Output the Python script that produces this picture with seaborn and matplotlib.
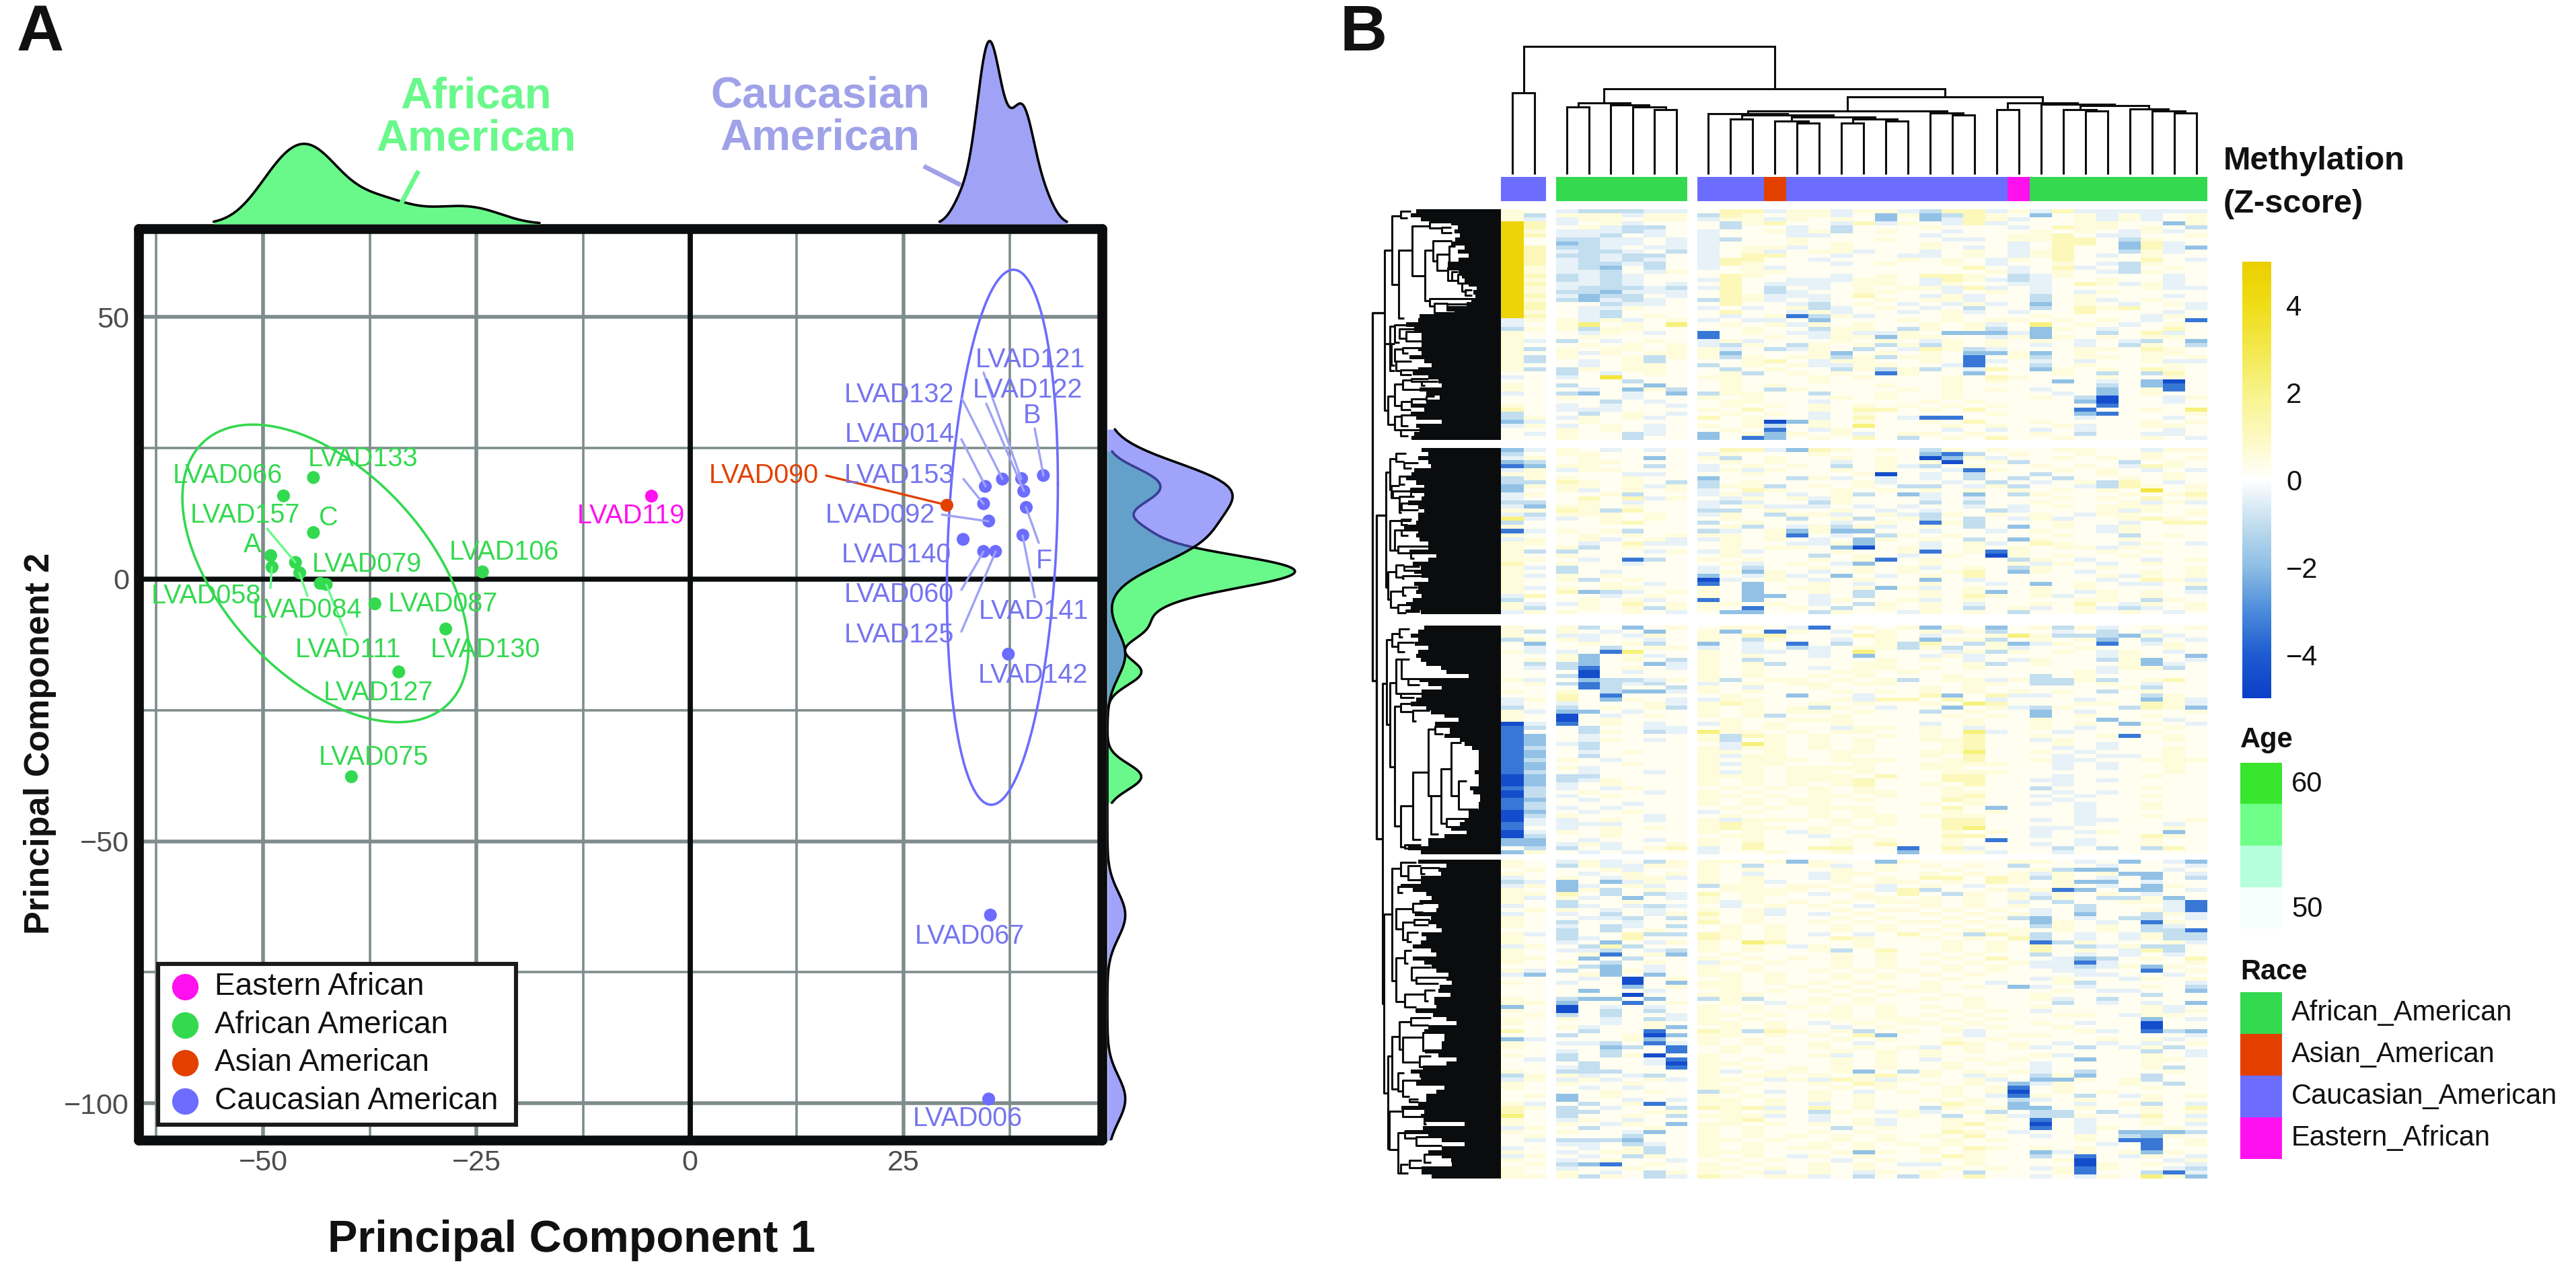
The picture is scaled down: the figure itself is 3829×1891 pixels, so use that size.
import numpy as np
import pandas as pd
import seaborn as sns
import matplotlib
matplotlib.use('Agg')
import matplotlib.pyplot as plt
from matplotlib.cm import ScalarMappable
from matplotlib.colors import LinearSegmentedColormap, Normalize
from matplotlib.patches import Rectangle

W, H = 3829, 1891

# PCA scores
green_ids = ['LVAD133', 'LVAD066', 'C', 'A', 'LVAD058', 'LVAD157', 'LVAD084', 'LVAD079', 'LVAD079b', 'LVAD087', 'LVAD106', 'LVAD130', 'LVAD127', 'LVAD075']
green_pc1 = [-44.1, -47.6, -44.1, -49.1, -48.95, -46.2, -45.7, -43.3, -42.6, -36.9, -24.3, -28.6, -34.1, -39.65]
green_pc2 = [19.4, 15.9, 8.9, 4.5, 2.3, 3.2, 1.2, -0.8, -1.0, -4.7, 1.4, -9.5, -17.7, -37.7]
blue_pc1 = [41.4, 38.85, 36.6, 39.1, 34.6, 34.4, 39.4, 35.0, 39.0, 32.0, 34.4, 35.8, 37.3, 35.2, 35.0]
blue_pc2 = [19.8, 19.2, 19.1, 16.8, 17.7, 14.4, 13.7, 11.1, 8.4, 7.6, 5.3, 5.3, -14.3, -64.1, -99.2]
magenta_pc1 = [-4.5]
magenta_pc2 = [15.85]
orange_pc1 = [30.1]
orange_pc2 = [14.1]

# ellipses: centre x, half width, centre y, half height, correlation
green_ellipse = [-42.7, 16.75, 1.1, 28.4, -0.507]
blue_ellipse = [36.6, 6.5, 8.0, 51.05, 0.2]

# label text, reference pixel centre
green_labels = [('LVAD133', 540, 682), ('LVAD066', 338, 707), ('LVAD157', 365, 766), ('C', 488, 770), ('A', 375, 810),
                ('LVAD079', 545, 839), ('LVAD106', 749, 821), ('LVAD058', 307, 886), ('LVAD084', 456, 907),
                ('LVAD087', 658, 898), ('LVAD111', 517, 966), ('LVAD130', 721, 966), ('LVAD127', 562, 1030), ('LVAD075', 555, 1126)]
blue_labels = [('LVAD132', 1337, 587), ('LVAD014', 1337, 646), ('LVAD153', 1337, 707), ('LVAD092', 1308, 766),
               ('LVAD140', 1332, 825), ('LVAD060', 1336, 884), ('LVAD125', 1336, 944), ('LVAD121', 1531, 535),
               ('LVAD122', 1527, 580), ('B', 1534, 618), ('F', 1552, 834), ('LVAD141', 1536, 909), ('LVAD142', 1535, 1004),
               ('LVAD067', 1441, 1392), ('LVAD006', 1438, 1663)]
green_links = [(397, 786, 439, 836), (402, 874, 404, 843), (457, 886, 445, 852), (515, 944, 485, 869)]
blue_links = [(1430, 593, 1490, 712), (1429, 653, 1465, 723), (1432, 712, 1462, 749), (1400, 765, 1469, 775),
              (1429, 877, 1462, 820), (1429, 939, 1480, 820), (1462, 554, 1518, 712), (1466, 600, 1522, 730),
              (1538, 637, 1551, 707), (1544, 807, 1525, 754), (1538, 888, 1520, 796)]

legend_names = ['Eastern African', 'African American', 'Asian American', 'Caucasian American']
race_names = ['African_American', 'Asian_American', 'Caucasian_American', 'Eastern_African']

# column annotation, one letter per sample
col_race = 'cc' + 'gggggg' + 'cccocccccccccc'[:14] + 'm' + 'gggggggg'

# column dendrogram: (left, right, y of the join in reference pixels)
g1_tree = (0, 1, 138)
g2_tree = ((2, 3, 159), (4, (5, (6, 7, 162.5), 159.4), 156), 153)
g3a_tree = ((8, ((9, 10, 177), ((11, (12, 13, 183), 180), ((14, 15, 183), (16, 17, 180), 177), 174), 171), 169),
            (18, (19, 20, 171), 168), 165)
g3b_tree = ((21, 22, 162.5), (23, ((24, (25, 26, 165), 162.5), (27, (28, (29, 30, 168), 165), 162), 157), 155), 153)
col_tree = (g1_tree, (g2_tree, (g3a_tree, g3b_tree, 144), 132), 69)

# heatmap, coded levels: 5 4 3 2 1 blue side, . near white, a b c d e yellow side
levels = {'.': 0.2, 'a': 0.55, 'b': 1.1, 'c': 2.2, 'd': 3.3, 'e': 4.6, '1': -0.4, '2': -1.0, '3': -1.9, '4': -3.4, '5': -4.5}

s1 = [
 "a. 122211 .bb1a a1aa1 2bb1a 1b111 111",
 "a2 aaa1aa 2ba.a a1.3a 32ba. 3.a1a 1.a",
 "a1 1aa.aa 1aa1a .a.3. 31ba1 ..a1a 1.a",
 "eb 1.a1.. .2ab. .1b1a .1b1. ..aa. .3a",
 "eb .a122. .2..1 .2... a...1 .baa. a.2",
 "ea 11121. 1..a1 a2.a. .1... a.a.1 a1.",
 "eb 112.1. 1...1 1.... 1...a ab.11 ..a",
 "e. 2211.1 12..a ...a. .11.a abb.2 a..",
 "e. 3211.1 1...a .a... a...1 .bb.3 b1.",
 "eb 221.11 1.aa1 .a... a.1.1 .b..3 b13",
 "eb 1221.2 1.a1. aa1.. 1.a.1 ab..2 a1.",
 "eb 22122. 1.bb. .1..1 1.a.1 ab.1. a..",
 "eb 12121. 1bb.. 1...a .a.1a .b... b.1",
 "eb 12212. 1ba.. .1.a. .a.1. .a.12 a..",
 "ea 123.2. 1.a1. ..... ..b.1 .b1.2 .a.",
 "ea 112.1a ..aa. ..... ...a1 .a.12 a..",
 "eb 2121.. .ba.. .1.a. bba.2 1a... .1.",
 "ea 2121.. 1b..1 11aa. 1ba12 1..a. .1.",
 "eb 1121.1 .b.11 1.aa. 1a..1 1.ba1 a1.",
 "ea 122212 1b.2. 1.a.a a1b1. 1.... a11",
 "ea 223111 .b.21 ..aa. .1.a. 1.1a. ...",
 "eb 1322.1 .ba11 1.b.. 1a1.. 2.a.. .1.",
 "ea 23121. 2ba1. 1..a. aa1.. 2.a1. a..",
 "eb ..211. .b..1 2.a.1 .1a1. 3.a.1 .a1",
 "eb .11a.. 1.1.a 21.a. 1.2.. 2.bab ..1",
 "ea .12... .b..1 a1..1 .a1.1 ..b.. .1.",
 "eb .12.a. .1.a4 2a1.. .a... a.... 1a.",
 "1a a1a1.a 1.11. 3...a .a.aa .a.a. 1.4",
 "1. ac.a.c .a.a1 a.a.. a.a1. c.a.1 .a.",
 "2a a2aa.. ..a.. 2aa.2 a.a2. 3a.1. .b.",
 "a. .1a.1. 4.a.1 1a11a .3331 3..2. b1.",
 "a. .a.... 4..a. 1aa3a a..1a 3a.a. aa.",
 "a1 2.1.a. 1a1.. .a.a. 1a.a. a.1.1 2.3",
 "a. .a.a.a 12a.2 a.a2a 2a.a. 1.1.2 a.2",
 "a2 a.aa.a a1.21 a.2.1 ba21. ..aa. ba.",
 "a. a1a.aa a3... a3.a. a.33a 3.a.. aa.",
 "a2 a..a2a a2a.a a2a2a a.4.a 2.aa. a.a",
 "a2 .1.a2. ..ab. 1aa.. a.41. 1.1.. a11",
 "a. .1.aa. 2.a.a 11aa. .14.. 2.a.. .a.",
 "a2 2a.aa. .2.a. .2a2a 2.1b. 3a.a. ba.",
 ".. 2.1.a. .a2.a .a.4a ..3.. .a.2. 2b.",
 "1. 1.d... aa... a.a.. .a.ba ...a. .a.",
 ".. ...2.. .a... a.... .a.a. .3.1. 35.",
 "a. 2...3. .a.a. ...a. .a... ...2. 34.",
 "a. .1.3a2 .a.2a ....a .a.a. 1..3. a4.",
 "1. 23.1.3 2aa.. 2..a. .a... .1.3. a..",
 ".. a..1.. a.a.. .a.a. .a... a.25. .1a",
 ".. ..2.1. .aa.. 1.... a.a.. ..35. .1.",
 "a. 1.1..1 .a.a. a.a.a .a.a. ...4. ...",
 "b. 111... a.b.. a.bb. a.b.. ..4.. a.c",
 "2. .2.a.1 .a.a. 1.a.. ...a. ..34. ..a",
 "2a 1a.a1. b.a.. 1.b.1 44... ..1.. .1.",
 "31 .a.... ..a53 a.a.. a.b.. a.... a.a",
 "1a 1.a.1. a.a2. a.c.. .a.a. .a1.. aa.",
 ".. a.a.1. .a.4. 1a... .1.1. 1.1.. .1.",
 ".1 a..21. 3.a3a .a1.a a.a.. a.2.. 11.",
 ".. a..2.. 3.43. a.b.2 .a.b. .a... a.1",
]
s2 = [
 "31 a.1.1. .bb13 ba.a. 2a.a. .aa.. 1aa",
 "2. aa.... 1a... a.... 342.a ..a.. a..",
 "1a .a..3. a2.a. .a.a. 53a1. .a.a. a.a",
 "32 .aa... .a.a. .1.a. a5.a2 ....2 .a.",
 "43 aa..2. 1.a.a .2.a1 2.a.. a.a.1 ba.",
 "1a 1aa... 1a1a. .a.a. .14a. .a.a. 1.1",
 "aa ...11. ..a.. ..a5. 1.2.. 2..a. .a.",
 "2a a..a.. 3...2 a1.1. 1.2.2 .2..a .a.",
 "22 ba.a.2 2.a.. ..a1. .1.2. 1.a2b .1.",
 "3a aa.a1a 2aa2. a.a.2 2.1a2 ..12b a.a",
 "3. a1.a.a 1.ba. .a.a. a.a.a .a.a. d.a",
 "1a ..a2.. 1a1.1 .a2.3 1.3.2 a...a .ab",
 "1. .b.b1a .1a.a 1a... 1.1.. .a.a. b.a",
 "22 .a.1.. 121.. 2a... 2.2.. a...a 1a1",
 "13 aa.a.. 1.a11 1.1.1 ..1.1 .a.aa a..",
 "aa ba2b.. 22.a. .a.1. 1..21 ...a1 a.a",
 "12 aaa.a. 1a.2a a1.a1 2a.a. a.1aa ..a",
 "c1 1.a.a. .a..2 .a2.a 2.2.1 a1..a ba.",
 "2. ..ab.. 2.a.. .1.a. 4a2.. .a..1 .bb",
 "a. ...... .a2.1 a2a1. a.2.3 .a.1a ...",
 "41 a.a2.. 21.a3 a33.. 1..1. a..1a ...",
 "a. .a.a.a aa.a4 .1.2a .a... .a..2 .a.",
 "1a .a1.a1 1a.a. 1.3a. a.2.3 a...a ...",
 "aa .1.b11 .a..1 1a3.. 1.a1. ba..1 a.1",
 "a. a2.a.. .a.aa .35.a 1.a.a .aa1a ...",
 "a2 2...1a 1a1.. .a..a 4.a4a ...a. a..",
 "a. a..... .a... 2.a.1 .a.5a .a..a ...",
 "aa .1.42. a.a.. a.a4. a...2 a.1.. 1.a",
 "b. a..1.. .a1.a .13.. a...a 1a.1. a..",
 "a1 2..... 1.2.. a.a.a 1.a.2 a..a. ..a",
 "a. 2.1... 1a3a. 1.a.a .ab.3 a.1.. a.a",
 "a1 a.a... 3.1a1 .3.1. a.b.. ...a1 a.a",
 "a. a2.a.. 51.a. 1.a.. 3.1.. ...1. ba1",
 "a. ..a.1. 4.3.. a.1.. a..1. 3.a.1 1.a",
 "a1 a.aa.. a.3.a a.a3a 1.a.. a.a.. ..2",
 "a. b321.a a.3.. a.2.. a.a3. a.1a. a.1",
 "1b ..1.a. a.33. 1.2.. a.ba. a1.a. a..",
 "2. .a.a1. 4.3.. 1a..a 1.a.. ..aa. 2a.",
 "a1 1a.b.a aa.a. 1.2a. a.1.. a.b.1 a.a",
 "a2 .a.a2a a.4.a .2.a. a.2.a 1.a12 1.a",
 "1a a..a.1 .33.. 2a..1 a.a.2 ..a.a .1.",
]
s3 = [
 "a. a2.3.a .aa.1 4.a.a 3a.3. a2a1. a.a",
 "a2 a.1.3. a3.4a .1.a. a1a2. .1.2. 1..",
 "a. 11.1a. a.bb. ..ba. 1..ac a2223 a1.",
 "2a a1..1. a.2a. .1.a. 3aa2. a.a3. 2.1",
 ".3 .a.a2. 3.1.4 .2.a2 b.2a3 1a.4. 1a.",
 ".1 ..2.aa 1.1.2 1.aa2 a2.a1 ..a.. .a.",
 "a1 1.4c.. a.11. 1.c.. .1a2a .a.1a .1.",
 ".. a3.a1. a.a.. 1.3.. 1a1.. ...1a ..3",
 ".a a3.a.2 a.2.. ...a. a.1.1 a..2a 3.1",
 ".2 23..31 a.a2. ..aa. ..a2. a...a 31.",
 ".1 24.a.1 a.a.. 1.aa. a.a.. ...1a a2.",
 ".. .5.1.. a.a.. .aa.a ..... ..a1. ...",
 ".. 25.... a.a.. a.a.. .a... 2.a.. ...",
 "a1 .3221a a2.aa .a.a2 .aa1a 22a2. ab.",
 ".a 24212. 1.a.a a.aa. ..aa. 22.a. 1..",
 ".. .42..2 a.1.. a.... a.a.. ....a 2..",
 "a. a.2331 a.a.. .a.a. a.a.a .a.2. a..",
 ".. b.4... .a..3 ..1.. b3.b1 1.... 2a.",
 "1a b.3a.1 1aa.. .a1bb .b.1. ..1.. 3a1",
 "1. 1...a1 aba.. a.a.. a.cb. ..aa. ba1",
 "2. 2.a.a2 a.a.a 2a.1. .3.a1 2a..2 ba3",
 "a1 33.1.. a.a.a a.a.. 2.a.. 3.1.. ..a",
 "a. 5.1.a. a.a2. .a... .a.a. 3.a.. a..",
 "a. 5.a... .a..a aa... ..a.. a..3. .1.",
 "51 4.a.1. 1a.a. .a... 1.a.. a.a.3 a.1",
 "42 .2..11 .a.a. .1aa. a.1.. a.1.. .a.",
 "4. .2a.21 caa.a .aa.. a.c1. .1... a..",
 "43 .1.... a2ba. a..a. a.b.. a..a4 .a.",
 "43 .1a.1. a2.a. a.a.. aab.. 1a... .a.",
 "43 12.... .1ca. a.a.. .ab.. .a.1. ...",
 "42 .2.... a1aa. a.a.. .ab.. .1.1. .a.",
 "43 .1.a.. aa.a. .aa.. aac.. a.1.. .a.",
 "43 .2.... a1aa. .a... a.b.. .1.11 .a.",
 "42 a.1... a.aaa .aaa. .ab.. a11.. aaa",
 "43 ...a.. a1aa. ..a.. aaaa. .1.1. .a.",
 "43 a1.... a.a.a aaa.. aa... .1.1. .a.",
 "42 .1..1. a1a.a a.a.. .aaa. ..... .a.",
 "53 22.... aaa.a aa.b. .bb.. .1... a..",
 "53 21a... a.a.a aab.. .bb.. 11.1. ...",
 "53 1.a... a.a.a .ab.. a.b.. .1... ...",
 "42 1.1a.. .a.a. a.a.. .a... 2.... a..",
 "52 .a..1. a.a.. a.aa. .aa.. .1.1. ...",
 "52 1.a... aa.a. aa.a. .ab.. 1.1.. a..",
 "43 .1.... a.a.a a.a.. .ba.. .1... ...",
 "42 ...1.. a.a.a a.... a.a.. 1.1.. a..",
 "42 1.1... .a.a. aaa.. .b.3. ..1.. a..",
 "53 .1.a.. 1.a.. a.a.. .a.a. ..1.. ...",
 "52 a...1. .a... a.aa. aaa.. ..1.. a..",
 "51 1.a.1. a1aaa .a.a. .bb.. 1.11. ..a",
 "41 111... aba.. .a.a. .bb.. ..1.. .1.",
 "4. 1.a.a. abaa. a.a.. .bc.. 11... .a.",
 "51 a.a... a.a.1 a.... .a.a. 1.1a. .3.",
 "52 ..a... .aa.. 1.a.. .bb.. 1.... ba.",
 "33 .1..1. a.a.. .a.a. .a.4. ..1.. a..",
 "33 1a1..a a.b.. .a.b. .a... 1.1.. a..",
 ".2 2.1.ab 1.b.. bb..4 .b1.. .2.2. 2b.",
 "3a .1.1.. 1..a. .a..3 .aa1. .1... ...",
]
s4 = [
 "a. 1a1.2a aa.a3 a..3a ....a a.1.3 .13",
 "a. 2a11aa a.2.. a1.a. a.a.2 ...1. ..1",
 ".a ..a1.. a.a.. .a.a. .a... a233. .1.",
 "a. .1.a.a a.1.. 1aa.. a.a.a 1a.a3 3.1",
 "1. a.1aa1 a.a.. 1a.a. bb.ba 2a.1. 3.2",
 "21 3.31a. a.a1. .a.aa .a.ba .a33. 1..",
 "1a 31.a1. 2aa.a a.a1. a.1.. .a.1. 3a.",
 "a. 3a2.a. .aaaa .a.1b 2..a1 a43.3 3.1",
 "aa b.2.21 b.aa. 1.a.b .2a.a 1a.a. 1..",
 "a1 a1.3.1 a.a.. ..aa. a.a.a 2a.22 a3.",
 "a. 2..a.. a1a.a .a.aa a.a.1 .2..a a14",
 "1. 21.121 .1.a. a.1.. a.a.a ..2.. .14",
 ".a a.1.1. a.a1. .a.aa .a.a. 1.2.. a14",
 "1. 1.2.1a b.a1. 1.a.. a.a.a 1.3.. 2a1",
 "a. .112.2 a.a.. .a.a. .a.a2 3.1.2 2.1",
 "a. 2..1.. b.a.. a.a.a a.a.. 3a.1. 4a.",
 "a. 1.21.2 .a.a. .a.a. .a.a. 2a.a. 21.",
 ".. 2.2.a. .a.a. .a.a. a.a.a .a.a. 224",
 "a1 2..b22 ba.a. 1.1.b .a2ba 2.1.1 a22",
 "a. 21.b.. ba.a. .ba.. a.a.b 2.1.1 a22",
 "a. 1.3.1a a.cb. ..a.. .a.a. 42a.. .a1",
 "1a .2b2.. a.a.1 a.a.. .a.a. b.21a 22.",
 "a. 112.12 a.a.. a2.b. .a.a. b.a.1 b2.",
 "a. .a4.a3 .a... .a.a. a.a.. 2.1.1 .1.",
 "aa .3.2.. a.a.a .a.a. .a.b. .132. a.b",
 "a. a.2.a. 1a.a. .a.a. a.a.a 1141. ..a",
 ".. .23.1. a.a.. .a.a. .a.a. 1121a 3a.",
 "a1 2.3a1. a.a.. a.a.a .a.a. .11.. 4.a",
 "13 .a3.3. aa.a. .a.a. a.a.. ..11. .1.",
 ".. .1.5.a .a.a. .a.a. .a... 1a..1 a.a",
 "a. 1..5.3 aa.a. a.a.. a..1. .a2.. ..1",
 ".. ...3.a aa..a .a.a. a.a.3 1.1.. a.2",
 ".. .3..1. .a.a. a.a.a a.... .a.11 ..3",
 ".. ...5.. aaa.. .a.a. .a... a.... 2..",
 "a. 233.3. 2a2.. a.a.. a.a.. a1.2. ...",
 "aa 3..4.a .a.1. a.a.. ..a.. .2.1. 1.3",
 "3. 5.1.1. a.a.a .a.a. a.a.. a.... a1.",
 "a. 5.2.2. a.a.. .a.a. .a.a. 1.... a1a",
 ".a 2.2..1 aa.a. aa.a. a.a.. .aa.1 aa.",
 "a. a.1.21 a.a.. .a.aa .a.a. ..... 3.1",
 "a. ..1.a. aa.a. 1.a.a a.a.. a.1.. 5..",
 ".. a1..a3 .a.a. .1.a. .a.a. .a... 5..",
 "b. .2..4. ba2ba .a2.a .a1.. ..a1. 423",
 ".. 2..a53 aa.a. a.b3. ..1.a a.... ..1",
 "31 ...a3. a.a.. .a.a. .a.a. ...a. a1.",
 "a. 112.41 a.a.. a.1.. .ba.a .1.1. 1.a",
 "a. ..32.4 .a.a. a.a.a 1.a.a 1.2.1 a2.",
 ".. 1.2..4 .a.a. .a.a. a.a.. ..... 2.1",
 "a. 2.2a5. a.... a1.a. a.... a1... a.1",
 ".1 2...14 a.a.. .a.a. 1.a.a ..3.. aa.",
 ".. .2..15 aa... .a.a. .a.a. 1.... a..",
 ".. 12...4 a.a.a .a.a. .a... 1.... a2.",
 "a. 222... a1.aa .a3.2 a.a.a 1.2.. .a.",
 "2a a1.12. a.aa. a.ab. a.1a. 2a3.. 2..",
 "1a 1a1.a1 aa.1a 1ba1a ..a1. 33a.a 2..",
 "a. a..a.. a.a.. a.ba. a.a.3 1a..a .2.",
 "a. .1.1.. aa... .a.a. .a.a4 .a... a..",
 ".. ..a.a. 2a.1. a.1.a .a.a5 .a.a. ...",
 ".a 3.a... a.a.. a.a.. .a.14 a.2.1 a.a",
 ".. 3..1.1 aa.a. a.a.. a.a.2 1.a.. a..",
 "a1 .2.a4. aa.a. 1.a.. .ba.3 ..1.a 2.1",
 "ba 2.1..2 bab1. b.a.. 2a.a3 3.a.. a.b",
 "b. 22..aa .a.a. 2a.1a 1.a2. 22.2. a.a",
 "c. 2..a.2 aaa1. 1...a .2.a1 22a.1 b.1",
 "a. 1a.1.. .ab.. 1.a1. .a.a. 4.1.. a.a",
 "a. a.1a.3 aa.a. a.a1. .ab.. 5.1.. a.1",
 "1a .2..a. a.a.. .2.a. .a.a. 4.1a. .a.",
 "a. a..13. a.a.. a.a.. .ba.1 ..1.3 332",
 ".a ...2.. a.a.a .a.a. a.b.. 1.a.2 3a.",
 ".1 2223.. aa.a. .a.a. .a.a. ..a.4 4.a",
 ".. 11.21. a.a.. a.a.a .a... ...1. 4.a",
 "1. .1.a2. a.a.a a.a.. a.ba. a.a.. 4..",
 "a. 1.aa2. aaa.. .a3a. a.a.. 31a.a 3a.",
 "1a .1.2a. a.a.1 a.a.. .ba.. 2.4.1 a.1",
 "a. 1.a..1 .a.a. .1.a. a.a.. .a5.. .1a",
 ".a 234.a. a.a.. a.a.1 1.a.. ..5a. a.1",
 "a. 1..a.. aa.a. a.a.. .a.a. 1a4a. .12",
 "a. a.1.2a a.a1. a.1a. a.2.. .a4.. 241",
 "aa a2a.21 ba.aa 1.2.2 a.b.. 1.1a. ca3",
]

# row dendrogram, left edge of the black block per row (x in zoom pixels, heatmap edge is 603)
edge_s1 = [225, 200, 245, 380, 410, 395, 420, 400, 380, 440, 410, 460, 415, 365, 365, 415, 430, 440, 460, 495, 480, 490, 470, 450,
           365, 395, 240, 235, 180, 215, 250, 250, 250, 250, 235, 250, 195, 260, 295, 235, 210, 280, 325, 340, 240, 270, 330, 270,
           200, 260, 200, 225, 340, 225, 240, 215, 205]
edge_s2 = [250, 280, 235, 280, 290, 215, 205, 180, 225, 260, 200, 260, 250, 190, 235, 260, 235, 235, 225, 170, 235, 225, 240, 280,
           280, 195, 315, 280, 210, 245, 215, 250, 280, 215, 235, 225, 250, 210, 180, 200, 245]
edge_s3 = [260, 235, 200, 235, 220, 280, 235, 225, 245, 270, 335, 360, 460, 240, 280, 340, 250, 250, 225, 200, 270, 290, 350, 415,
           310, 375, 375, 350, 420, 440, 475, 503, 505, 505, 505, 503, 485, 505, 505, 505, 465, 480, 510, 510, 505, 505, 460, 460,
           440, 420, 380, 450, 350, 280, 280, 190, 245]
edge_s4 = [235, 360, 325, 335, 245, 245, 155, 210, 270, 295, 240, 325, 315, 220, 290, 280, 315, 340, 250, 270, 245, 210, 290, 315,
           210, 260, 295, 315, 370, 360, 385, 330, 325, 378, 305, 305, 315, 225, 300, 360, 405, 280, 260, 350, 350, 340, 340, 265,
           325, 405, 360, 255, 200, 240, 245, 225, 350, 315, 270, 270, 235, 160, 260, 245, 260, 440, 255, 175, 280, 340, 440, 340,
           280, 340, 380, 385, 250, 250, 295]

# row dendrogram joins: x, y top, y bottom, x end top, x end bottom
tree_top = [
 (83, 180, 772, 118, 100), (118, 52, 305, 155, 145), (155, 35, 60, 200, 185), (148, 180, 430, 208, 170), (208, 90, 275, 285, 265),
 (285, 75, 97, 380, 340), (340, 95, 115, 380, 385), (265, 180, 365, 300, 285), (300, 145, 220, 385, 318), (318, 195, 255, 375, 365),
 (372, 165, 240, 400, 395), (365, 245, 290, 385, 385), (385, 260, 290, 410, 410), (410, 270, 300, 440, 430), (430, 300, 330, 490, 450),
 (445, 325, 345, 475, 475), (285, 358, 385, 470, 305), (305, 375, 410, 365, 395), (362, 378, 400, 450, 395), (83, 525, 525, 108, 108),
 (108, 460, 625, 130, 130), (130, 455, 520, 180, 150), (150, 470, 505, 215, 180), (180, 480, 515, 250, 250), (115, 525, 605, 130, 130),
 (130, 545, 590, 165, 135), (165, 540, 560, 235, 190), (135, 590, 625, 205, 155), (155, 622, 640, 235, 205), (100, 720, 825, 128, 130),
 (128, 675, 755, 165, 160), (165, 660, 695, 205, 240), (205, 655, 665, 280, 250), (250, 665, 680, 320, 265), (160, 740, 770, 200, 200),
 (205, 730, 750, 270, 270), (270, 720, 735, 305, 295), (130, 795, 845, 160, 155), (160, 790, 830, 225, 190), (155, 845, 865, 240, 190),
 (90, 1000, 1425, 108, 100), (108, 950, 1065, 135, 115), (135, 930, 960, 180, 170), (170, 965, 985, 235, 205), (115, 1050, 1095, 150, 120),
 (150, 1015, 1045, 205, 175), (120, 1070, 1095, 200, 150), (150, 1090, 1150, 200, 160), (200, 1060, 1090, 260, 215), (160, 1115, 1140, 225, 235),
 (108, 1180, 1290, 200, 130), (160, 1175, 1195, 205, 185), (130, 1215, 1290, 160, 145), (160, 1215, 1235, 235, 190), (145, 1275, 1300, 280, 200),
 (200, 1300, 1320, 315, 215), (100, 1370, 1470, 135, 110), (135, 1345, 1390, 170, 165), (170, 1350, 1365, 240, 215), (165, 1385, 1395, 280, 170),
 (110, 1440, 1500, 165, 145), (165, 1425, 1455, 230, 180), (145, 1490, 1520, 210, 180), (180, 1510, 1515, 240, 240),
]
tree_bot = [
 (75, 178, 1055, 92, 85), (92, 58, 290, 118, 108), (118, 40, 75, 150, 145), (150, 27, 50, 195, 165), (145, 65, 90, 215, 175),
 (108, 175, 405, 135, 125), (135, 110, 205, 160, 155), (160, 110, 165, 195, 190), (190, 165, 180, 240, 240), (155, 205, 215, 250, 215),
 (128, 240, 568, 155, 155), (155, 232, 255, 270, 210), (210, 250, 280, 285, 225), (155, 512, 625, 210, 175), (210, 420, 605, 280, 245),
 (280, 303, 485, 310, 290), (310, 295, 315, 375, 345), (335, 412, 560, 380, 360), (290, 485, 590, 335, 325), (380, 340, 485, 425, 415),
 (415, 445, 522, 450, 500), (360, 548, 570, 445, 385), (175, 620, 630, 245, 245),
 (80, 810, 1300, 118, 100), (118, 685, 992, 155, 135), (155, 668, 705, 225, 190), (190, 678, 715, 245, 245), (245, 682, 700, 330, 265),
 (145, 735, 750, 215, 165), (135, 795, 850, 210, 165), (210, 780, 805, 255, 255), (165, 832, 880, 215, 185), (215, 825, 840, 285, 280),
 (185, 860, 885, 235, 205), (135, 930, 1050, 175, 175), (175, 910, 945, 205, 190), (205, 955, 990, 290, 225), (225, 983, 1000, 365, 325),
 (175, 1030, 1065, 265, 225), (265, 1018, 1048, 310, 280), (225, 1070, 1078, 315, 315), (100, 1200, 1455, 118, 100), (118, 1145, 1290, 150, 145),
 (150, 1105, 1180, 200, 165), (200, 1095, 1115, 290, 280), (165, 1148, 1215, 255, 240), (255, 1135, 1185, 350, 270), (240, 1200, 1228, 290, 360),
 (145, 1245, 1295, 170, 165), (165, 1265, 1310, 250, 195), (195, 1318, 1325, 235, 235), (105, 1350, 1455, 165, 145), (165, 1340, 1365, 240, 260),
 (260, 1368, 1385, 400, 270), (145, 1410, 1520, 175, 155), (175, 1405, 1425, 215, 225), (225, 1420, 1445, 340, 340), (260, 1468, 1490, 340, 290),
 (155, 1497, 1520, 190, 190), (195, 1485, 1505, 250, 250),
]

sns.set_style('white')
plt.rcParams['font.family'] = ['Liberation Sans', 'DejaVu Sans']

GREEN, BLUE, ORANGE, MAGENTA = '#33D94F', '#6C6CFF', '#E34000', '#FF10EE'
LIGHT_GREEN, LIGHT_BLUE = '#68F98A', '#9FA2F5'
INK = '#0A0C0D'
GRID = '#7F8C8C'

fig = plt.figure(figsize=(W / 100, H / 100), dpi=100, facecolor='white')


def axes_px(x0, y0, x1, y1, **kw):
    return fig.add_axes([x0 / W, 1 - y1 / H, (x1 - x0) / W, (y1 - y0) / H], **kw)


# Panel A scatter
scores = pd.DataFrame({
    'pc1': green_pc1 + blue_pc1 + magenta_pc1 + orange_pc1,
    'pc2': green_pc2 + blue_pc2 + magenta_pc2 + orange_pc2,
    'race': ['g'] * len(green_pc1) + ['c'] * len(blue_pc1) + ['m'] + ['o'],
})
ax = axes_px(206, 340, 1638, 1695)
ax.set_xlim((206 - 1025.5) / 12.69, (1638 - 1025.5) / 12.69)
ax.set_ylim((861 - 1695) / 7.79, (861 - 340) / 7.79)
ax.set_xticks([-50, -25, 0, 25])
ax.set_yticks([-100, -50, 0, 50])
ax.set_xticks([-62.5, -37.5, -12.5, 12.5, 37.5], minor=True)
ax.set_yticks([-75, -25, 25], minor=True)
ax.grid(True, which='major', color=GRID, lw=4.0, zorder=1)
ax.grid(True, which='minor', color=GRID, lw=2.6, zorder=1)
ax.set_axisbelow(True)
ax.axhline(0, color=INK, lw=5.4, zorder=1.5)
ax.axvline(0, color=INK, lw=5.6, zorder=1.5)
for sp in ax.spines.values():
    sp.set_linewidth(10.5)
    sp.set_color(INK)
    sp.set_capstyle('round')
ax.tick_params(which='major', length=3, width=2, color='#333333', labelsize=31, labelcolor='#4D4D4D', pad=7, left=True, bottom=True)
ax.tick_params(which='minor', length=0)

for ell, col in [(green_ellipse, GREEN), (blue_ellipse, BLUE)]:
    t = np.linspace(0, 2 * np.pi, 300)
    ax.plot(ell[0] + ell[1] * np.cos(t), ell[2] + ell[3] * np.cos(t - np.arccos(ell[4])), color=col, lw=2.6, zorder=2)

sns.scatterplot(data=scores, x='pc1', y='pc2', hue='race', palette={'g': GREEN, 'c': BLUE, 'm': MAGENTA, 'o': ORANGE},
                s=190, linewidth=0, legend=False, ax=ax, zorder=4, clip_on=False)
ax.set_xlabel('')
ax.set_ylabel('')

# marginal densities
top = axes_px(206, 15, 1638, 333, facecolor='none')
sns.kdeplot(x=green_pc1, fill=True, color=LIGHT_GREEN, alpha=1, linewidth=0, bw_adjust=0.68, cut=2.2, ax=top)
sns.kdeplot(x=green_pc1, color='black', linewidth=2.6, bw_adjust=0.68, cut=2.2, ax=top)
sns.kdeplot(x=blue_pc1, fill=True, color=LIGHT_BLUE, alpha=1, linewidth=0, bw_adjust=0.85, cut=2.2, ax=top)
sns.kdeplot(x=blue_pc1, color='black', linewidth=2.6, bw_adjust=0.85, cut=2.2, ax=top)
top.set_xlim(ax.get_xlim())
top_peak = max(l.get_ydata().max() for l in top.lines)
top.set_ylim(0, top_peak * 318 / 272)
top.axis('off')

side = axes_px(1646, 340, 2000, 1695, facecolor='none')
sns.kdeplot(y=green_pc2, fill=True, color=LIGHT_GREEN, alpha=1, linewidth=0, bw_adjust=0.3, cut=2, ax=side)
sns.kdeplot(y=green_pc2, color='black', linewidth=2.6, bw_adjust=0.3, cut=2, ax=side)
sns.kdeplot(y=blue_pc2, fill=True, color='#6166F8', alpha=0.6, linewidth=0, bw_adjust=0.22, cut=2, ax=side, zorder=3)
sns.kdeplot(y=blue_pc2, color='black', linewidth=2.6, bw_adjust=0.22, cut=2, ax=side, zorder=4)
side.set_ylim(ax.get_ylim())
side_peak = max(l.get_xdata().max() for l in side.lines)
side.set_xlim(0, side_peak * 354 / 279)
side.axis('off')

# Panel B heatmap, three column groups by four row slices
cmap = LinearSegmentedColormap.from_list('meth', ['#0B3FC8', '#1E5CD0', '#4C8CDB', '#8DBEE4', '#C2DEEF', '#FFFFFF',
                                                  '#FDF9C0', '#F8F38A', '#F3E84E', '#EFDD18', '#EBCF00'])
row_slices = [(s1, 311, 654), (s2, 666, 913), (s3, 930, 1270), (s4, 1278, 1752)]
col_groups = [(0, 2, 2231, 2298), (2, 8, 2313, 2508), (8, 31, 2523, 3281)]


def decode(rows):
    out = []
    for r in rows:
        r = r.replace(' ', '').ljust(31, '.')[:31]
        out.append([levels[ch] for ch in r])
    return pd.DataFrame(out)


for rows, y0, y1 in row_slices:
    mat = decode(rows)
    for c0, c1, x0, x1 in col_groups:
        hax = axes_px(x0, y0, x1, y1)
        sns.heatmap(mat.iloc[:, c0:c1], cmap=cmap, vmin=-5, vmax=5, cbar=False, xticklabels=False, yticklabels=False, ax=hax)
        hax.set_xlabel('')
        hax.set_ylabel('')

# everything placed in reference pixels goes on one overlay
ov = fig.add_axes([0, 0, 1, 1], facecolor='none', zorder=5)
ov.set_xlim(0, W)
ov.set_ylim(H, 0)
ov.axis('off')


def col_x(i):
    for c0, c1, x0, x1 in col_groups:
        if c0 <= i < c1:
            return x0 + (i - c0 + 0.5) * (x1 - x0) / (c1 - c0)


def draw_col(node):
    if isinstance(node, int):
        return col_x(node), 259
    xl, yl = draw_col(node[0])
    xr, yr = draw_col(node[1])
    y = node[2]
    ov.plot([xl, xl, xr, xr], [yl, y, y, yr], color=INK, lw=2.2, solid_joinstyle='miter', solid_capstyle='butt')
    return (xl + xr) / 2, y


draw_col(col_tree)

# annotation bar
race_colors = {'g': GREEN, 'c': BLUE, 'o': ORANGE, 'm': MAGENTA}
for i, r in enumerate(col_race):
    for c0, c1, x0, x1 in col_groups:
        if c0 <= i < c1:
            w = (x1 - x0) / (c1 - c0)
            ov.add_patch(Rectangle((x0 + (i - c0) * w, 263), w + 0.5 if i + 1 < c1 else w, 36, color=race_colors[r], lw=0))

# row dendrogram blocks
for edges, (rows, y0, y1) in zip([edge_s1, edge_s2, edge_s3, edge_s4], row_slices):
    h = (y1 - y0) / len(edges)
    for i, e in enumerate(edges):
        d = (603 - e) / 3
        ov.add_patch(Rectangle((2231 - d, y0 + i * h), d, h + 0.3, color=INK, lw=0))


def draw_brackets(items, yorigin, yscale):
    for x, yt, yb, xt, xb in items:
        xs = [2030 + xt / 3, 2030 + x / 3, 2030 + x / 3, 2030 + xb / 3]
        ys = [yorigin + yt / yscale, yorigin + yt / yscale, yorigin + yb / yscale, yorigin + yb / yscale]
        ov.plot(xs, ys, color=INK, lw=2.2, solid_capstyle='butt')


draw_brackets(tree_top, 300, 2.489)
draw_brackets(tree_bot, 920, 1.845)
# the few long top joins
ov.plot([2058, 2040, 2040, 2046], [465, 465, 1012, 1012], color=INK, lw=2.4)
ov.plot([2060, 2046, 2046, 2054], [766, 766, 1247, 1247], color=INK, lw=2.4)

# links and labels
for x0, y0, x1, y1 in green_links:
    ov.plot([x0, x1], [y0, y1], color=LIGHT_GREEN, lw=2.4)
for x0, y0, x1, y1 in blue_links:
    ov.plot([x0, x1], [y0, y1], color=LIGHT_BLUE, lw=2.4)
ov.plot([1228, 1408], [707, 751], color=ORANGE, lw=2.4)
ov.plot([622, 596], [254, 303], color=LIGHT_GREEN, lw=5, solid_capstyle='butt')
ov.plot([1373, 1428], [247, 275], color='#9FA2E8', lw=5, solid_capstyle='butt')

for s, x, y in green_labels:
    ov.text(x, y, s, color=GREEN, fontsize=28.5, ha='center', va='center')
for s, x, y in blue_labels:
    ov.text(x, y, s, color='#7474F0', fontsize=28.5, ha='center', va='center')
ov.text(938, 767, 'LVAD119', color=MAGENTA, fontsize=28.5, ha='center', va='center')
ov.text(1135, 707, 'LVAD090', color=ORANGE, fontsize=28.5, ha='center', va='center')

ov.text(708, 175, 'African\nAmerican', color=LIGHT_GREEN, fontsize=47, fontweight='bold', ha='center', va='center', linespacing=1.08)
ov.text(1219, 174, 'Caucasian\nAmerican', color='#9FA2E8', fontsize=47, fontweight='bold', ha='center', va='center', linespacing=1.08)

ov.text(850, 1844, 'Principal Component 1', fontsize=48, fontweight='bold', color='#111111', ha='center', va='center')
ov.text(60, 1105, 'Principal Component 2', fontsize=37.5, fontweight='bold', color='#111111', ha='center', va='center', rotation=90)
ov.text(60, 50, 'A', fontsize=70, fontweight='bold', color='#111111', ha='center', va='center')
ov.text(2027, 50, 'B', fontsize=70, fontweight='bold', color='#111111', ha='center', va='center')

# panel A legend
ov.add_patch(Rectangle((235, 1433), 532, 239, facecolor='white', edgecolor='#1A1A1A', lw=4.4))
for name, col, y in zip(legend_names, [MAGENTA, GREEN, ORANGE, BLUE], [1467, 1524, 1580, 1637]):
    ov.scatter([275], [y], s=800, color=col, linewidth=0)
    ov.text(319, y, name, fontsize=33, color='#111111', ha='left', va='center')

# panel B legends
ov.text(3305, 240, 'Methylation', fontsize=35, fontweight='bold', color='#111111', ha='left', va='center')
ov.text(3305, 303, '(Z-score)', fontsize=35, fontweight='bold', color='#111111', ha='left', va='center')
cax = axes_px(3333, 389, 3376, 1038)
cb = fig.colorbar(ScalarMappable(norm=Normalize(-5, 5), cmap=cmap), cax=cax, ticks=[-4, -2, 0, 2, 4])
cb.outline.set_visible(False)
cb.ax.tick_params(length=0, labelsize=30, pad=16, colors='#111111')

ov.text(3330, 1100, 'Age', fontsize=30, fontweight='bold', color='#111111', ha='left', va='center')
for col, y in zip(['#38E62E', '#6EFF88', '#B5FFDC', '#F5FFFC'], [1134, 1195, 1257, 1319]):
    ov.add_patch(Rectangle((3330, y), 62, 62, color=col, lw=0))
ov.text(3406, 1166, '60', fontsize=30, color='#111111', ha='left', va='center')
ov.text(3406, 1352, '50', fontsize=30, color='#111111', ha='left', va='center')

ov.text(3330, 1445, 'Race', fontsize=30, fontweight='bold', color='#111111', ha='left', va='center')
for name, col, y in zip(race_names, [GREEN, ORANGE, BLUE, MAGENTA], [1475, 1537, 1599, 1661]):
    ov.add_patch(Rectangle((3330, y), 62, 62, color=col, lw=0))
    ov.text(3406, y + 31, name, fontsize=30, color='#111111', ha='left', va='center')

fig.savefig('out.png', dpi=100)
